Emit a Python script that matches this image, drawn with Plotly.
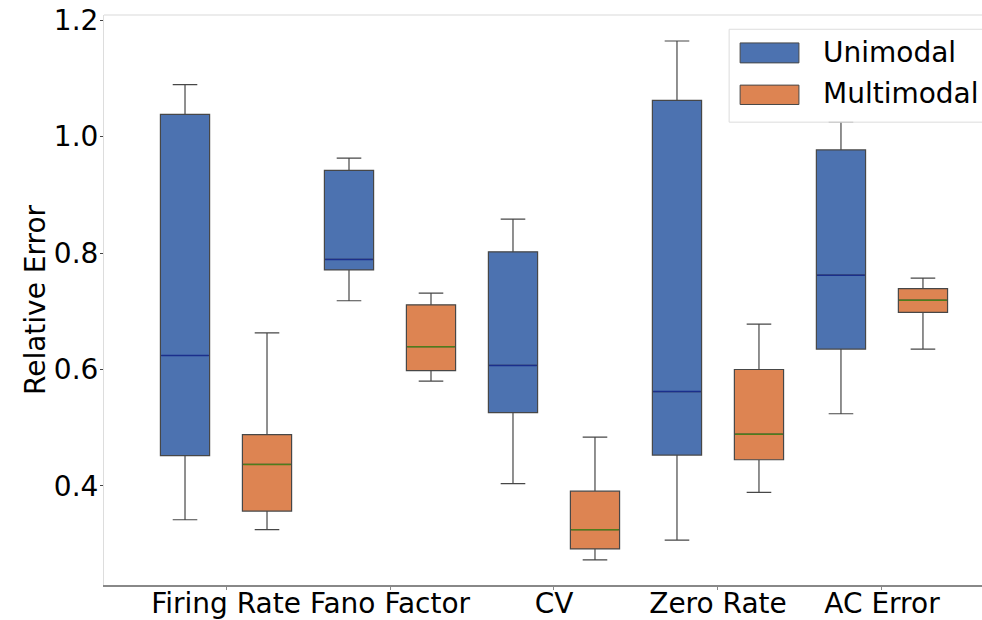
import plotly.graph_objects as go

categories = ["Firing Rate", "Fano Factor", "CV", "Zero Rate", "AC Error"]

uni_lower = [0.342, 0.718, 0.404, 0.307, 0.524]
uni_q1 = [0.452, 0.771, 0.526, 0.453, 0.635]
uni_median = [0.624, 0.789, 0.607, 0.562, 0.762]
uni_q3 = [1.038, 0.942, 0.802, 1.062, 0.977]
uni_upper = [1.089, 0.963, 0.858, 1.164, 1.025]

multi_lower = [0.325, 0.580, 0.273, 0.389, 0.635]
multi_q1 = [0.357, 0.598, 0.292, 0.445, 0.698]
multi_median = [0.437, 0.639, 0.325, 0.489, 0.719]
multi_q3 = [0.488, 0.711, 0.391, 0.600, 0.739]
multi_upper = [0.663, 0.731, 0.484, 0.678, 0.757]

series_names = ["Unimodal", "Multimodal"]
BLUE = "#4C72B0"
ORANGE = "#DD8452"
EDGE = "#474747"
FONT = "DejaVu Sans"
FS = 28

idx = list(range(len(categories)))
OFF = 0.25
BW = 0.30

fig = go.Figure()

specs = [
    (series_names[0], -OFF, BLUE, "#1b2f8c", uni_lower, uni_q1, uni_median, uni_q3, uni_upper),
    (series_names[1], OFF, ORANGE, "#4e7d1c", multi_lower, multi_q1, multi_median, multi_q3, multi_upper),
]

for name, off, fill, medc, lo, q1, med, q3, up in specs:
    xs = [i + off for i in idx]
    fig.add_trace(go.Box(
        name=name, x=xs, q1=q1, median=med, q3=q3,
        lowerfence=lo, upperfence=up,
        width=BW, whiskerwidth=0.5,
        fillcolor=fill, line=dict(color=EDGE, width=1.2),
        boxpoints=False, showlegend=False, hoverinfo="skip",
    ))
    mx, my = [], []
    for x, m in zip(xs, med):
        mx += [x - BW / 2 + 0.005, x + BW / 2 - 0.005, None]
        my += [m, m, None]
    fig.add_trace(go.Scatter(
        x=mx, y=my, mode="lines", line=dict(color=medc, width=1.5),
        showlegend=False, hoverinfo="skip",
    ))

# manual legend (matplotlib-style wide patches)
fig.add_shape(type="rect", xref="paper", yref="paper", x0=0.712, x1=1.05, y0=0.812, y1=0.975,
              line=dict(color="#dddddd", width=1), fillcolor="rgba(255,255,255,0.85)", layer="above")
legend_rows = [(series_names[0], BLUE, 0.916, 0.951, 0.935), (series_names[1], ORANGE, 0.843, 0.877, 0.862)]
for name, col, y0, y1, yt in legend_rows:
    fig.add_shape(type="rect", xref="paper", yref="paper", x0=0.7245, x1=0.7915, y0=y0, y1=y1,
                  line=dict(color=EDGE, width=1), fillcolor=col, layer="above")
    fig.add_annotation(xref="paper", yref="paper", x=0.8166, y=yt, text=name, showarrow=False,
                       xanchor="left", yanchor="middle", font=dict(family=FONT, size=FS, color="#000"))

# top spine
fig.add_shape(type="line", xref="paper", yref="paper", x0=0, x1=1, y0=1, y1=1,
              line=dict(color="#d9d9d9", width=1))

fig.update_layout(
    width=982, height=620,
    margin=dict(l=104, r=0, t=15, b=35),
    paper_bgcolor="white", plot_bgcolor="white",
    font=dict(family=FONT, size=FS, color="#000"),
    xaxis=dict(
        range=[-0.744, 4.61], tickmode="array", tickvals=idx, ticktext=categories,
        showgrid=False, zeroline=False, showline=True, linecolor="#888888", linewidth=1.5,
        ticks="outside", ticklen=3, tickcolor="#888888", ticklabelstandoff=-10,
        tickfont=dict(family=FONT, size=FS, color="#000"), automargin=False,
    ),
    yaxis=dict(
        range=[0.230, 1.2086], tickvals=[0.4, 0.6, 0.8, 1.0, 1.2],
        ticktext=["0.4", "0.6", "0.8", "1.0", "1.2"],
        showgrid=False, zeroline=False, showline=True, linecolor="#dddddd", linewidth=1,
        ticks="outside", ticklen=3, tickcolor="#444", ticklabelstandoff=-4,
        tickfont=dict(family=FONT, size=FS, color="#000"), automargin=False,
        title=dict(text="Relative Error", standoff=0, font=dict(family=FONT, size=FS, color="#000")),
    ),
)

fig.write_html("out.html")
